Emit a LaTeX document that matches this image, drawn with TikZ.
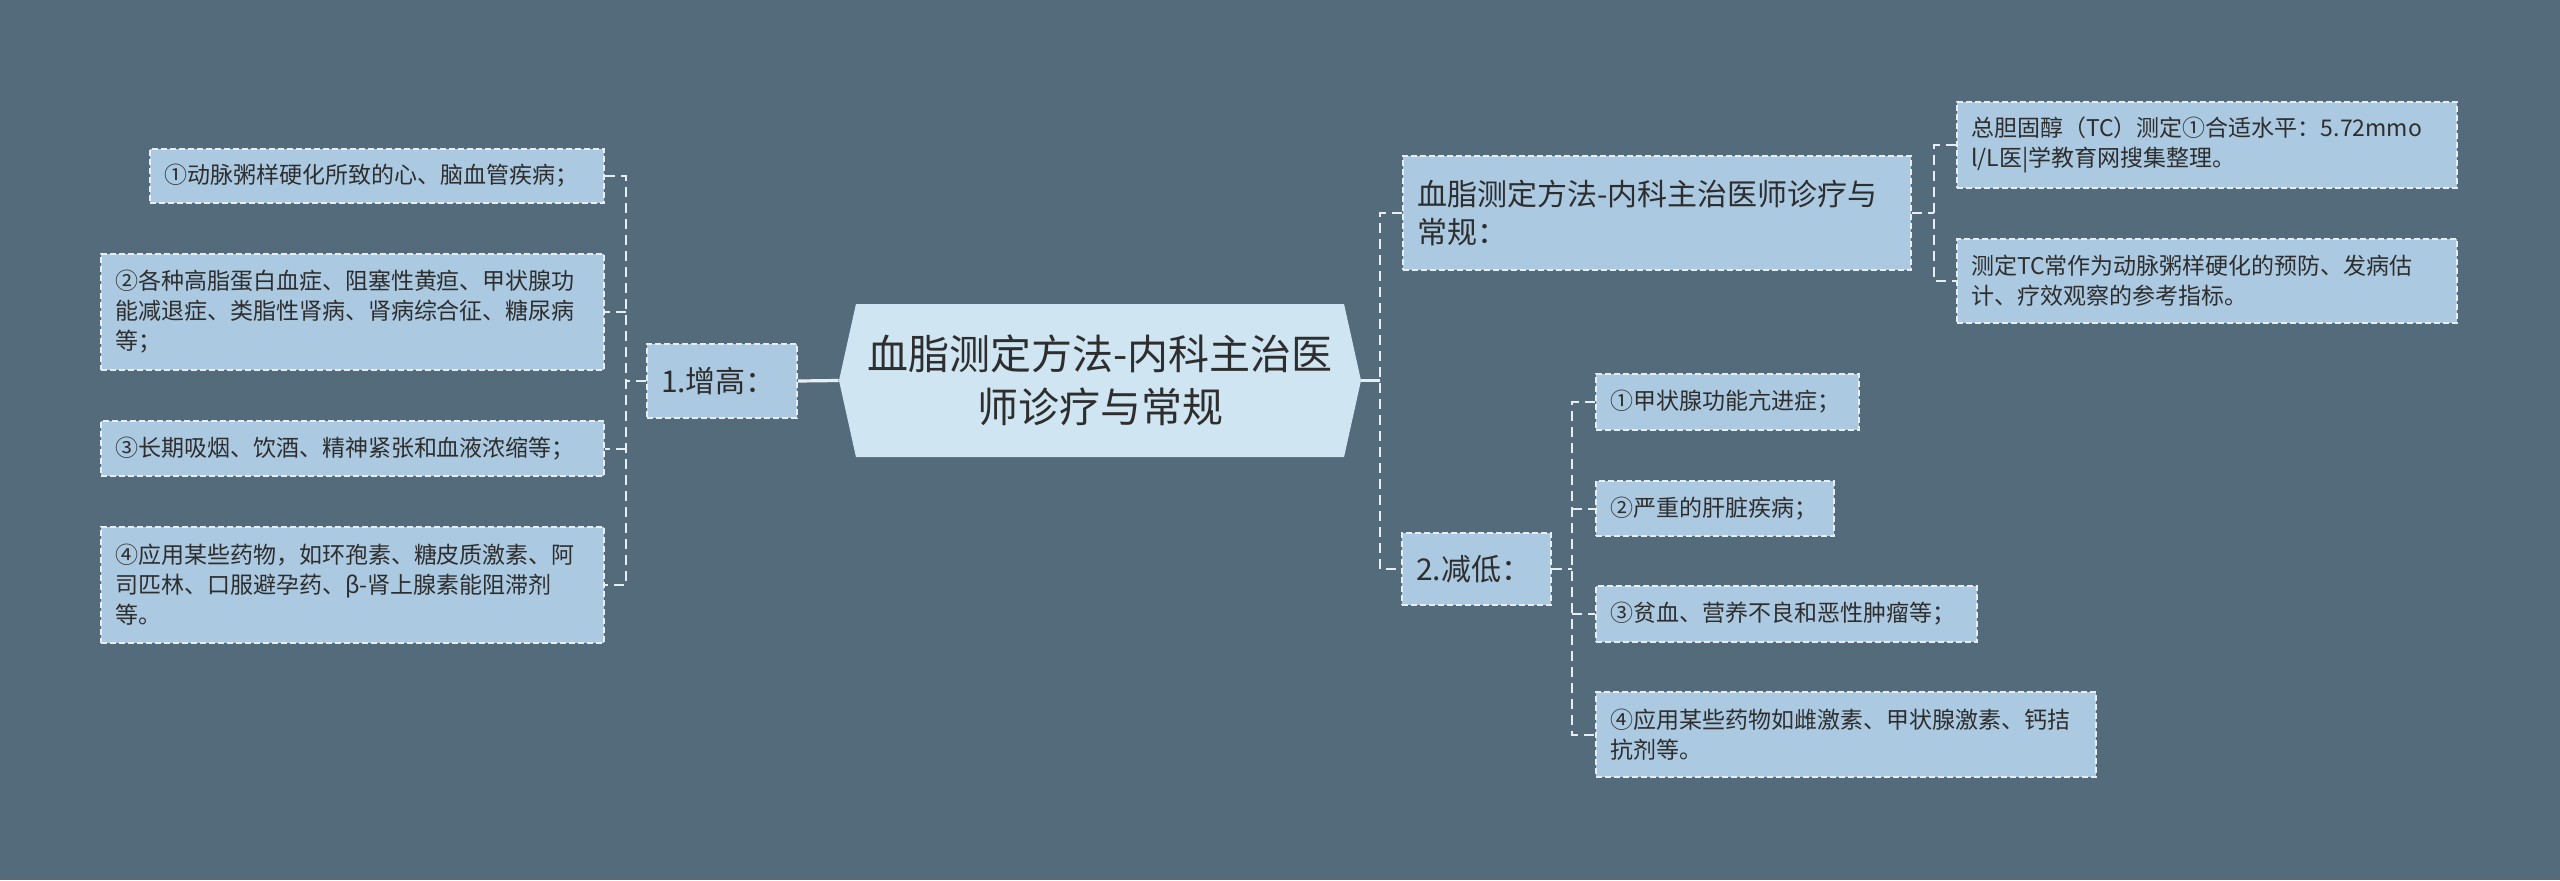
\documentclass[tikz,border=0pt]{standalone}
\usepackage{fontspec}
\setmainfont{Noto Sans CJK SC}
\usepackage{tikz}
\usetikzlibrary{shapes.symbols}

\definecolor{bgslate}{HTML}{546B7B}
\definecolor{subfill}{HTML}{ABC9E0}
\definecolor{rootfill}{HTML}{CFE5F2}
\definecolor{edgewhite}{HTML}{E6EEF4}
\definecolor{inkgrey}{HTML}{2E2E2E}

\begin{document}
\begin{tikzpicture}[x=0.5pt,y=-0.5pt,
        leaf/.style = {draw=edgewhite, fill=subfill, line width=0.8pt, dash pattern=on 3pt off 1.5pt,
                text=inkgrey, align=left, inner xsep=7pt, inner ysep=2pt, text width=#1,
                font=\fontsize{11.5pt}{15pt}\selectfont},
        branch/.style = {leaf=#1, font=\fontsize{15pt}{19pt}\selectfont},
        rootnode/.style = {signal, signal to=west and east, signal pointer angle=155, fill=rootfill,
                text=inkgrey, align=center, minimum width=261pt, minimum height=76.5pt,
                font=\fontsize{20.5pt}{26.5pt}\selectfont},
        link/.style = {draw=edgewhite, line width=1pt, dash pattern=on 5pt off 3pt},
        trunk/.style = {draw=edgewhite, line width=1.6pt},
    ]
    \useasboundingbox[fill=bgslate] (0,0) rectangle (2560,880);
    % centre
    \node[rootnode] (root) at (1100,380.5) {血脂测定方法-内科主治医\\师诊疗与常规};
    % 1. increase
    \node[branch=61pt, minimum height=37pt] (zg) at (722,381) {1.增高：};
    \node[leaf=213pt, minimum height=27pt] (l1) at (377,176) {①动脉粥样硬化所致的心、脑血管疾病；};
    \node[leaf=237.5pt, minimum height=58pt] (l2) at (352.5,312) {②各种高脂蛋白血症、阻塞性黄疸、甲状腺功\\能减退症、类脂性肾病、肾病综合征、糖尿病\\等；};
    \node[leaf=237.5pt, minimum height=27.5pt] (l3) at (352.5,448.5) {③长期吸烟、饮酒、精神紧张和血液浓缩等；};
    \node[leaf=237.5pt, minimum height=58pt] (l4) at (352.5,585) {④应用某些药物，如环孢素、糖皮质激素、阿\\司匹林、口服避孕药、β-肾上腺素能阻滞剂\\等。};
    % method
    \node[branch=240pt, minimum height=57pt] (xz) at (1657,213) {血脂测定方法-内科主治医师诊疗与\\常规：};
    \node[leaf=236pt, minimum height=43pt] (tc1) at (2207,145) {总胆固醇（TC）测定①合适水平：5.72mmo\\l/L医|学教育网搜集整理。};
    \node[leaf=236pt, minimum height=42pt] (tc2) at (2207,281) {测定TC常作为动脉粥样硬化的预防、发病估\\计、疗效观察的参考指标。};
    % 2. decrease
    \node[branch=60.5pt, minimum height=36pt] (jd) at (1476.5,569) {2.减低：};
    \node[leaf=117.5pt, minimum height=28pt] (d1) at (1727.5,402) {①甲状腺功能亢进症；};
    \node[leaf=105pt, minimum height=27.5pt] (d2) at (1715,508.5) {②严重的肝脏疾病；};
    \node[leaf=176.5pt, minimum height=28pt] (d3) at (1786.5,614) {③贫血、营养不良和恶性肿瘤等；};
    \node[leaf=236pt, minimum height=42.5pt] (d4) at (1846,734.5) {④应用某些药物如雌激素、甲状腺激素、钙拮\\抗剂等。};

    % left side
    \coordinate (lb) at (626,381);
    \draw[trunk] (root.west) -- (zg.east);
    \draw[link] (zg.west) -- (lb);
    \draw[link] (l1.east) -| (lb) |- (l4.east);
    \draw[link] (lb |- l2.east) -- (l2.east);
    \draw[link] (lb |- l3.east) -- (l3.east);
    % right side
    \coordinate (rb) at (1380,380.5);
    \draw[trunk] (root.east) -- (rb);
    \draw[link] (xz.west) -| (rb) |- (jd.west);
    \coordinate (sb) at (1934,213);
    \draw[link] (xz.east) -- (sb);
    \draw[link] (tc1.west) -| (sb) |- (tc2.west);
    \coordinate (db) at (1572,569);
    \draw[link] (jd.east) -- (db);
    \draw[link] (d1.west) -| (db) |- (d4.west);
    \draw[link] (db |- d2.west) -- (d2.west);
    \draw[link] (db |- d3.west) -- (d3.west);
\end{tikzpicture}
\end{document}
